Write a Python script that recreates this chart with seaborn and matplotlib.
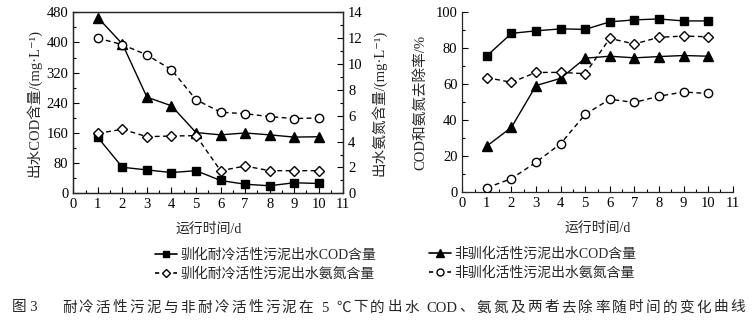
import re
import matplotlib
matplotlib.use("Agg")
import matplotlib.pyplot as plt
from matplotlib.lines import Line2D
from matplotlib.ticker import MultipleLocator
import seaborn as sns

sns.set_style("ticks")
FONTS = ["Liberation Serif", "Noto Sans CJK SC", "DejaVu Sans"]
plt.rcParams["font.family"] = FONTS
plt.rcParams["axes.unicode_minus"] = False

days = [1, 2, 3, 4, 5, 6, 7, 8, 9, 10]

# Effluent COD (mg/L)
cod_acclimated = [148, 69, 62, 55, 60, 34, 24, 20, 28, 26]
cod_normal = [466, 396, 255, 232, 161, 155, 160, 155, 149, 150]
# Effluent ammonia nitrogen (mg/L)
nh3_acclimated = [4.64, 4.95, 4.38, 4.43, 4.46, 1.75, 2.11, 1.75, 1.75, 1.75]
nh3_normal = [12.0, 11.5, 10.7, 9.56, 7.24, 6.27, 6.16, 5.93, 5.78, 5.83]
# Removal rates (%)
cod_rm_acclimated = [75.8, 88.3, 89.7, 90.8, 90.5, 94.7, 95.8, 96.3, 95.2, 95.2]
cod_rm_normal = [25.7, 36.1, 59.3, 63.3, 74.5, 75.6, 74.7, 75.4, 76.0, 75.6]
nh3_rm_acclimated = [63.7, 61.1, 66.6, 66.6, 65.9, 85.5, 82.4, 86.1, 86.8, 86.4]
nh3_rm_normal = [2.5, 7.6, 16.7, 27.0, 43.3, 51.7, 49.9, 53.4, 55.7, 54.9]

legend_labels = ["驯化耐冷活性污泥出水COD含量", "非驯化活性污泥出水COD含量",
                 "驯化耐冷活性污泥出水氨氮含量", "非驯化活性污泥出水氨氮含量"]

xlabel = "运行时间/d"
ylabel_cod = "出水COD含量/(mg·L⁻¹)"
ylabel_nh3 = "出水氨氮含量/(mg·L⁻¹)"
ylabel_rm = "COD和氨氮去除率/%"
caption_num = "图 3"
caption = "耐冷活性污泥与非耐冷活性污泥在 5 ℃下的出水 COD、氨氮及两者去除率随时间的变化曲线"

DASH = (0, (3.5, 2.5))
styles = {
    "sq": dict(marker="s", linestyle="-", markerfacecolor="black", markersize=5.5),
    "tri": dict(marker="^", linestyle="-", markerfacecolor="black", markersize=6.5),
    "dia": dict(marker="D", linestyle=DASH, markerfacecolor="white", markersize=5.5),
    "cir": dict(marker="o", linestyle=DASH, markerfacecolor="white", markersize=6),
}


def draw(ax, y, key):
    st = styles[key]
    sns.lineplot(x=days, y=y, ax=ax, color="black", linewidth=1.0,
                 marker=st["marker"], linestyle=st["linestyle"],
                 markersize=st["markersize"], markerfacecolor=st["markerfacecolor"],
                 markeredgecolor="black", markeredgewidth=1.0, zorder=3)


def style_axis(ax):
    ax.tick_params(direction="in", which="both", labelsize=10.5, width=0.8, colors="black")
    ax.tick_params(which="major", length=4)
    ax.tick_params(which="minor", length=2)
    for sp in ax.spines.values():
        sp.set_linewidth(0.9)


W, H = 754, 327
fig = plt.figure(figsize=(W / 100, H / 100), dpi=100)

# Left panel: effluent concentrations
ax1 = fig.add_axes([73.3 / W, 1 - 193.3 / H, 270 / W, 181 / H])
ax1b = ax1.twinx()
draw(ax1, cod_acclimated, "sq")
draw(ax1, cod_normal, "tri")
draw(ax1b, nh3_acclimated, "dia")
draw(ax1b, nh3_normal, "cir")
ax1.set_xlim(0, 11)
ax1.set_ylim(0, 480)
ax1b.set_ylim(0, 14)
ax1.xaxis.set_major_locator(MultipleLocator(1))
ax1.xaxis.set_minor_locator(MultipleLocator(0.5))
ax1.yaxis.set_major_locator(MultipleLocator(80))
ax1.yaxis.set_minor_locator(MultipleLocator(40))
ax1b.yaxis.set_major_locator(MultipleLocator(2))
ax1b.yaxis.set_minor_locator(MultipleLocator(1))
for a in (ax1, ax1b):
    style_axis(a)
    for sp in a.spines.values():
        sp.set_visible(True)
ax1.set_xlabel(xlabel, fontsize=10, labelpad=8)
ax1.set_ylabel(ylabel_cod, fontsize=10.5, labelpad=4)
ax1b.set_ylabel(ylabel_nh3, fontsize=10.5, labelpad=6, rotation=90)

# Right panel: removal rates
ax2 = fig.add_axes([462.3 / W, 1 - 192.3 / H, 270.4 / W, 180 / H])
draw(ax2, cod_rm_acclimated, "sq")
draw(ax2, cod_rm_normal, "tri")
draw(ax2, nh3_rm_acclimated, "dia")
draw(ax2, nh3_rm_normal, "cir")
ax2.set_xlim(0, 11)
ax2.set_ylim(0, 100)
ax2.xaxis.set_major_locator(MultipleLocator(1))
ax2.xaxis.set_minor_locator(MultipleLocator(0.5))
ax2.yaxis.set_major_locator(MultipleLocator(20))
ax2.yaxis.set_minor_locator(MultipleLocator(10))
style_axis(ax2)
sns.despine(ax=ax2)
ax2.set_xlabel(xlabel, fontsize=10, labelpad=8)
ax2.set_ylabel(ylabel_rm, fontsize=10.5, labelpad=6)


def handle(key):
    st = styles[key]
    ls = st["linestyle"] if st["linestyle"] == "-" else (0, (2.5, 3))
    return Line2D([], [], color="black", linewidth=1.2, linestyle=ls,
                  marker=st["marker"], markersize=st["markersize"] - 1.0,
                  markerfacecolor=st["markerfacecolor"], markeredgecolor="black")


leg_kw = dict(frameon=False, fontsize=10, handlelength=1.6, handletextpad=0.2,
              labelspacing=0.38, borderpad=0, borderaxespad=0, loc="upper left")
fig.legend([handle("sq"), handle("dia")], [legend_labels[0], legend_labels[2]],
           bbox_to_anchor=(155 / W, 1 - 248 / H), **leg_kw)
fig.legend([handle("tri"), handle("cir")], [legend_labels[1], legend_labels[3]],
           bbox_to_anchor=(429 / W, 1 - 248 / H), **leg_kw)


def tracked_text(s, x_left, x_right, y, size):
    """Lay out a string token by token (CJK chars, Latin runs, spaces), spread evenly."""
    tokens = re.findall(r"[A-Za-z0-9]+|\s|\S", s)
    renderer = fig.canvas.get_renderer()
    widths = []
    for tok in tokens:
        if tok.isspace():
            widths.append(size * 0.3)
            continue
        t = fig.text(0, 0, tok, fontsize=size)
        widths.append(t.get_window_extent(renderer).width)
        t.remove()
    gap = (x_right - x_left - sum(widths)) / (len(tokens) - 1)
    x = x_left
    for tok, w in zip(tokens, widths):
        if not tok.isspace():
            fig.text(x / W, 1 - y / H, tok, fontsize=size, va="center", ha="left")
        x += w + gap


fig.text(12 / W, 1 - 308 / H, caption_num, fontsize=10.5, va="center", ha="left")
tracked_text(caption, 62, 745, 308, 10.5)

fig.savefig("out.png", dpi=100)
